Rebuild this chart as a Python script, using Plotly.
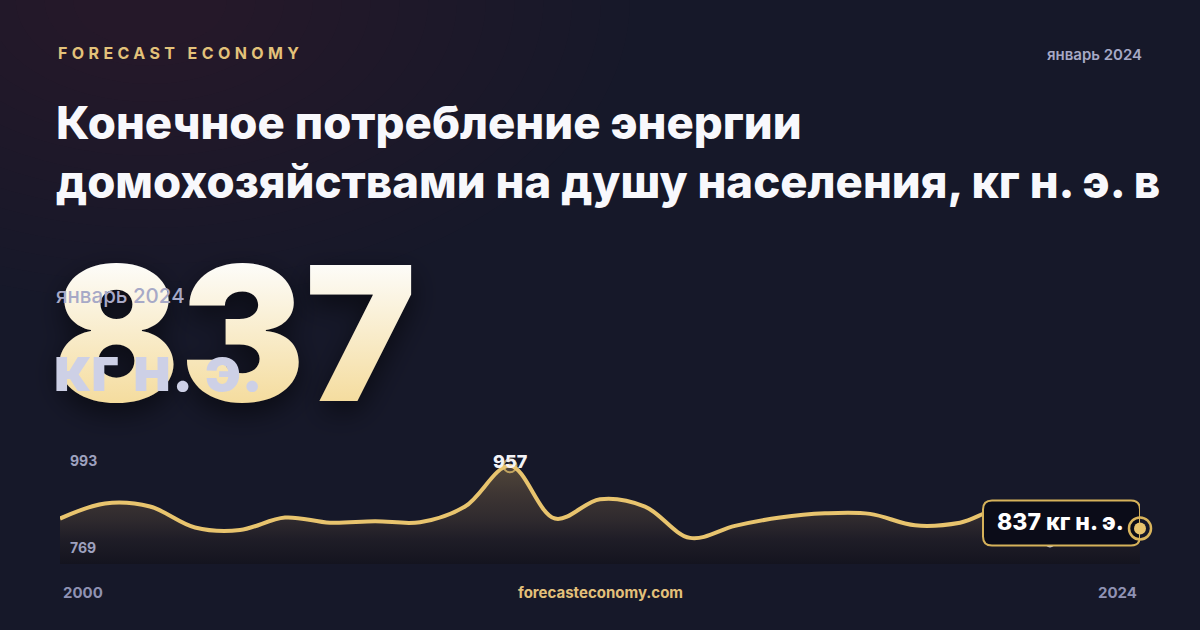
import plotly.graph_objects as go

# ---------------- data ----------------
years = list(range(2000, 2025))
values = [856, 885, 879, 839, 834, 858, 848, 851, 849, 879,
          957, 856, 893, 879, 819, 842, 858, 866, 865, 843,
          848, 874, 810, 818, 837]
y_range = [769, 993]
peak_year, peak_value = 2010, 957
min_year, min_value = 2022, 810
brand = "FORECAST ECONOMY"
period = "январь 2024"
title_lines = ["Конечное потребление энергии",
               "домохозяйствами на душу населения, кг н. э. в"]
big_value = "837"
unit = "кг н. э."
site = "forecasteconomy.com"

# ---------------- style ----------------
W, H = 1200, 630
BG = "#161829"
GOLD = "#e8c46e"
FONT = "Inter"

def py(p):  # pixel y (from top) -> paper y
    return (H - p) / H

def px(p):
    return p / W

X_DOMAIN = [px(60), px(1140)]
Y_DOMAIN = [py(564), py(447)]

fig = go.Figure()

fig.add_trace(go.Scatter(
    x=years, y=values, mode="lines",
    line=dict(color=GOLD, width=4, shape="spline", smoothing=1.0),
    fill="tozeroy",
    fillgradient=dict(type="vertical",
                      colorscale=[[0, "#14141f"], [0.25, "#1f1d27"], [0.45, "#2f2a2e"],
                                  [0.7, "#3d3533"], [1, "#51463a"]],
                      start=y_range[0], stop=peak_value),
    hoverinfo="skip", showlegend=False, cliponaxis=True,
))

# min marker (mostly hidden below the callout)
fig.add_trace(go.Scatter(
    x=[min_year], y=[min_value], mode="markers",
    marker=dict(size=10, color="#c9cde3"),
    hoverinfo="skip", showlegend=False, cliponaxis=False,
))
# peak ring
fig.add_trace(go.Scatter(
    x=[peak_year], y=[peak_value], mode="markers",
    marker=dict(size=13, color="rgba(0,0,0,0)", line=dict(color="rgba(232,196,110,0.75)", width=2)),
    hoverinfo="skip", showlegend=False, cliponaxis=False,
))

shapes = []
# warm glow near the top-left
n = 15
for i in range(n):
    ry = 300 - i * 18
    rx = ry * 1.6
    shapes.append(dict(type="circle", xref="paper", yref="paper",
                       xsizemode="pixel", ysizemode="pixel",
                       xanchor=px(150), yanchor=1,
                       x0=-rx, x1=rx, y0=-ry, y1=ry,
                       fillcolor="rgba(180,125,45,0.0135)", line=dict(width=0),
                       layer="below"))

# rounded callout box anchored to the last point (pixel offsets)
bx0, bx1, by0, by1, rr = -157, 0, -17, 28, 9
path = (f"M{bx0+rr},{by0} L{bx1-rr},{by0} Q{bx1},{by0} {bx1},{by0+rr} "
        f"L{bx1},{by1-rr} Q{bx1},{by1} {bx1-rr},{by1} L{bx0+rr},{by1} "
        f"Q{bx0},{by1} {bx0},{by1-rr} L{bx0},{by0+rr} Q{bx0},{by0} {bx0+rr},{by0} Z")
shapes.append(dict(type="path", xref="x", yref="y",
                   xsizemode="pixel", ysizemode="pixel",
                   xanchor=years[-1], yanchor=values[-1],
                   path=path, fillcolor="#0b0c18",
                   line=dict(color="#d6b25a", width=2), layer="above"))
# end point ring + dot (above the box; x in paper so it is not clipped at the plot edge)
for rad, fill, lw in [(11, "rgba(0,0,0,0)", 2.5), (6, "#e8c46e", 0)]:
    shapes.append(dict(type="circle", xref="paper", yref="y",
                       xsizemode="pixel", ysizemode="pixel",
                       xanchor=X_DOMAIN[1], yanchor=values[-1],
                       x0=-rad, x1=rad, y0=-rad, y1=rad,
                       fillcolor=fill,
                       line=dict(color="#d9b45c", width=lw), layer="above"))

annotations = []
# brand
annotations.append(dict(
    text=f'<span style="letter-spacing:4.4px">{brand}</span>',
    x=px(56), y=py(53), xref="paper", yref="paper", xanchor="left", yanchor="middle",
    showarrow=False, font=dict(family=FONT, size=16, color="#e3c27a", weight=700)))
# period top right
annotations.append(dict(
    text=period, x=px(1144), y=py(54), xref="paper", yref="paper",
    xanchor="right", yanchor="middle", showarrow=False,
    font=dict(family=FONT, size=15, color="#a6a9c6", weight=600)))
# title
annotations.append(dict(
    text="<br>".join(title_lines), x=px(54), y=py(93), xref="paper", yref="paper",
    xanchor="left", yanchor="top", align="left", showarrow=False,
    font=dict(family=FONT, size=45.5, color="#f8f8fc", weight=800)))
# big value
annotations.append(dict(
    text=big_value, x=px(51), y=py(333), xref="paper", yref="paper",
    xanchor="left", yanchor="middle", showarrow=False,
    font=dict(family=FONT, size=187, color="#f8ebc6", weight=900,
              shadow="0px 10px 28px rgba(0,0,0,0.55)")))
# period over number
annotations.append(dict(
    text=period, x=px(54), y=py(295), xref="paper", yref="paper",
    xanchor="left", yanchor="middle", showarrow=False,
    font=dict(family=FONT, size=20.5, color="#a7a9c7", weight=500)))
# unit over number
annotations.append(dict(
    text=unit, x=px(51), y=py(369), xref="paper", yref="paper",
    xanchor="left", yanchor="middle", showarrow=False,
    font=dict(family=FONT, size=62, color="#cdd0e6", weight=800)))

# y range labels
annotations.append(dict(
    text=str(y_range[1]), x=px(68), y=y_range[1], xref="paper", yref="y",
    xanchor="left", yanchor="middle", yshift=-14, showarrow=False,
    font=dict(family=FONT, size=14, color="#9ea1bf", weight=700)))
annotations.append(dict(
    text=str(y_range[0]), x=px(68), y=y_range[0], xref="paper", yref="y",
    xanchor="left", yanchor="middle", yshift=17, showarrow=False,
    font=dict(family=FONT, size=14, color="#9ea1bf", weight=700)))
# peak label
annotations.append(dict(
    text=str(peak_value), x=peak_year, y=peak_value, xref="x", yref="y",
    xanchor="center", yanchor="middle", yshift=4, showarrow=False,
    font=dict(family=FONT, size=18, color="#f3f3f6", weight=800)))
# callout text
annotations.append(dict(
    text=f"{values[-1]} {unit}", x=years[-1], y=values[-1], xref="x", yref="y",
    xanchor="right", yanchor="middle", xshift=-14, yshift=6, showarrow=False,
    font=dict(family=FONT, size=23, color="#ffffff", weight=800)))
# x end labels
annotations.append(dict(
    text=str(years[0]), x=years[0], y=py(592), xref="x", yref="paper",
    xanchor="left", yanchor="middle", xshift=1, showarrow=False,
    font=dict(family=FONT, size=15, color="#8f92b3", weight=700)))
annotations.append(dict(
    text=str(years[-1]), x=years[-1], y=py(592), xref="x", yref="paper",
    xanchor="right", yanchor="middle", xshift=-1, showarrow=False,
    font=dict(family=FONT, size=15, color="#8f92b3", weight=700)))
# site
annotations.append(dict(
    text=site, x=0.5, y=py(592), xref="paper", yref="paper",
    xanchor="center", yanchor="middle", showarrow=False,
    font=dict(family=FONT, size=15, color="#e3c07a", weight=700)))

fig.update_layout(
    width=W, height=H, autosize=False,
    margin=dict(l=0, r=0, t=0, b=0),
    paper_bgcolor=BG, plot_bgcolor="rgba(0,0,0,0)",
    xaxis=dict(domain=X_DOMAIN, range=[years[0], years[-1]],
               visible=False, fixedrange=True),
    yaxis=dict(domain=Y_DOMAIN, range=y_range,
               visible=False, fixedrange=True),
    shapes=shapes, annotations=annotations,
    showlegend=False,
)

post = """
document.body.style.margin='0';
document.body.style.background='#161829';
(function(){
  var gd = document.querySelector('.js-plotly-plot');
  var svg = gd.querySelector('svg.main-svg');
  var ns = 'http://www.w3.org/2000/svg';
  var defs = svg.querySelector('defs') || svg.insertBefore(document.createElementNS(ns,'defs'), svg.firstChild);
  var lg = document.createElementNS(ns,'linearGradient');
  lg.setAttribute('id','bigNumGrad');
  lg.setAttribute('x1','0'); lg.setAttribute('y1','0');
  lg.setAttribute('x2','0'); lg.setAttribute('y2','1');
  [['0.2','#fdfcf8'],['0.85','#f4da98']].forEach(function(s){
    var st = document.createElementNS(ns,'stop');
    st.setAttribute('offset', s[0]); st.setAttribute('stop-color', s[1]);
    lg.appendChild(st);
  });
  defs.appendChild(lg);
  gd.querySelectorAll('text.annotation-text').forEach(function(t){
    if (t.textContent === '""" + big_value + """') { t.style.fill = 'url(#bigNumGrad)'; }
  });
})();
"""

fig.write_html("out.html", config={"displayModeBar": False}, post_script=post)
